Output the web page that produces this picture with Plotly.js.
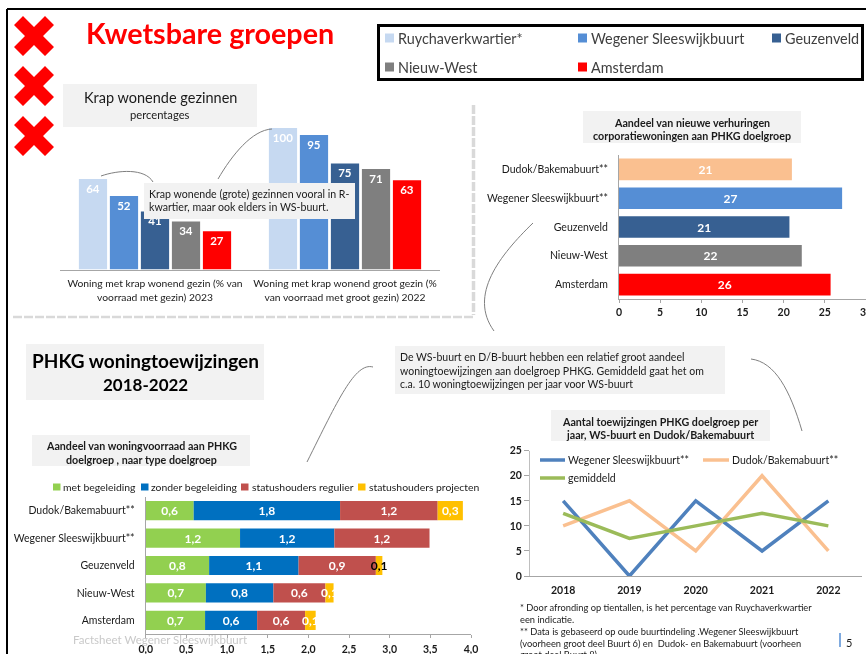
<!DOCTYPE html>
<html><head><meta charset="utf-8">
<script src="https://cdn.plot.ly/plotly-3.0.1.min.js"></script>
<style>html,body{margin:0;padding:0;background:#fff;overflow:hidden}#c{width:866px;height:654px;filter:blur(0.4px)}</style>
</head><body><div id="c"></div>
<script>
// ---------- data ----------
const crowdCategories = ['Woning met krap wonend gezin (% van<br>voorraad met gezin) 2023','Woning met krap wonend groot gezin (%<br>van voorraad met groot gezin) 2022'];
const crowdNames = ['Ruychaverkwartier*','Wegener Sleeswijkbuurt','Geuzenveld','Nieuw-West','Amsterdam'];
const crowdColors = ['#C6D9F1','#558ED5','#376092','#7F7F7F','#FF0000'];
const ruychaver = [64,100];
const wegener = [52,95];
const geuzenveld = [41,75];
const nieuwWest = [34,71];
const amsterdam = [27,63];

const rentCategories = ['Dudok/Bakemabuurt**','Wegener Sleeswijkbuurt**','Geuzenveld','Nieuw-West','Amsterdam'];
const rentValues = [21.0,27.1,20.7,22.2,25.7];
const rentLabels = ['21','27','21','22','26'];
const rentColors = ['#FAC090','#558ED5','#376092','#7F7F7F','#FF0000'];

const stackNames = ['met begeleiding','zonder begeleiding','statushouders regulier','statushouders projecten'];
const stackColors = ['#92D050','#0070C0','#C0504D','#FFC000'];
const metBegeleiding = [0.59,1.16,0.78,0.74,0.73];
const zonderBegeleiding = [1.80,1.16,1.10,0.83,0.64];
const regulier = [1.20,1.17,0.95,0.64,0.59];
const projecten = [0.31,0,0.08,0.10,0.13];
const metLabels = ['0,6','1,2','0,8','0,7','0,7'];
const zonderLabels = ['1,8','1,2','1,1','0,8','0,6'];
const regulierLabels = ['1,2','1,2','0,9','0,6','0,6'];
const projectenLabels = ['0,3','','0,1','0,1','0,1'];
const projectenLabelColors = ['#fff','#fff','#000','#fff','#fff'];

const years = ['2018','2019','2020','2021','2022'];
const lineNames = ['Wegener Sleeswijkbuurt**','Dudok/Bakemabuurt**','gemiddeld'];
const lineColors = ['#4F81BD','#FAC090','#9BBB59'];
const lineWegener = [15,0,15,5,15];
const lineDudok = [10,15,5,20,5];
const lineGemiddeld = [12.5,7.5,10,12.5,10];

const footnotes = ['* Door afronding op tientallen, is het percentage van Ruychaverkwartier','een indicatie.','** Data is gebaseerd op oude buurtindeling .Wegener Sleeswijkbuurt','(voorheen groot deel Buurt 6) en  Dudok- en Bakemabuurt (voorheen','groot deel Buurt 8).'];

// ---------- helpers ----------
const W=866,H=654,F='Lato, Carlito, sans-serif',INK='#1a1a1a';
const px=x=>x/W, py=y=>1-y/H;
const dx=(a,b)=>[px(a),px(b)], dy=(top,bot)=>[py(bot),py(top)];
const shapes=[],annotations=[];
function rect(x0,y0,x1,y1,fill,line){shapes.push({type:'rect',xref:'paper',yref:'paper',layer:'above',x0:px(x0),x1:px(x1),y0:py(y0),y1:py(y1),fillcolor:fill||'rgba(0,0,0,0)',line:line||{width:0}});}
function seg(x0,y0,x1,y1,color,width,dash){shapes.push({type:'line',xref:'paper',yref:'paper',layer:'above',x0:px(x0),x1:px(x1),y0:py(y0),y1:py(y1),line:{color:color,width:width,dash:dash||'solid'}});}
function path(pts,fill){
  const d=pts.map(p=>p[0]+p.slice(1).map((v,i)=>i%2?py(v):px(v)).join(' ')).join(' ');
  shapes.push({type:'path',xref:'paper',yref:'paper',layer:'above',path:d,fillcolor:fill||'rgba(0,0,0,0)',line:fill?{width:0}:{color:'#7f7f7f',width:1}});
}
function note(text,x,y,size,o){o=o||{};annotations.push({xref:'paper',yref:'paper',x:px(x),y:py(y),text:text,showarrow:false,xanchor:o.anchor||'center',yanchor:'middle',align:o.anchor||'center',borderpad:0,font:{family:F,size:size,color:o.color||INK,weight:o.weight||400}});}
function cross(cx,cy){const a=20,b=11,c=9;
  const p=[[-a,-b],[-b,-a],[0,-c],[b,-a],[a,-b],[c,0],[a,b],[b,a],[0,c],[-b,a],[-a,b],[-c,0]];
  path(p.map((q,i)=>[i?'L':'M',cx+q[0],cy+q[1]]).concat([['Z']]),'#FF0000');}

// ---------- page furniture ----------
seg(7,9,866,9,'#000',2); seg(7,9,7,654,'#000',2);
[36,86,136].forEach(y=>cross(34,y));
note('Kwetsbare groepen',210,33,28.7,{color:'#FF0000',weight:700});
rect(378.5,25.5,862.5,79.5,'#fff',{color:'#000',width:3});

// legend 1
const legendPos=[[385,38],[578,38],[772,38],[385,67],[578,67]];
crowdNames.forEach((n,i)=>{const[p,q]=legendPos[i];rect(p,q-4.5,p+9,q+4.5,crowdColors[i]);note(n,p+11.5,q,14.4,{anchor:'left',color:'#404040'});});

// grey boxes
rect(63,84,257,127,'#F2F2F2');
note('Krap wonende gezinnen',160,97.5,14.5);
note('percentages',160,114.5,11.2);
rect(583,111,801,143,'#F2F2F2');
note('Aandeel van nieuwe verhuringen',692,122,10.7,{weight:700});
note('corporatiewoningen aan PHKG doelgroep',692,135.5,10.7,{weight:700});
rect(26,344,264,400,'#F2F2F2');
note('PHKG woningtoewijzingen',145,360,19,{color:'#000',weight:700});
note('2018-2022',145,384,17,{color:'#000',weight:700});
rect(32,435,250,466,'#F2F2F2');
note('Aandeel van woningvoorraad aan PHKG',141,445.5,10.7,{weight:700});
note('doelgroep , naar type doelgroep',141,459,10.7,{weight:700});
rect(551,410,770,441,'#F2F2F2');
note('Aantal toewijzingen PHKG doelgroep per',660,421,10.7,{weight:700});
note('jaar, WS-buurt en Dudok/Bakemabuurt',660,434,10.7,{weight:700});
rect(144,183,355,219,'#F2F2F2');
note('Krap wonende (grote) gezinnen vooral in R-',148,194,10.6,{anchor:'left'});
note('kwartier, maar ook elders in WS-buurt.',148,207.5,10.6,{anchor:'left'});
rect(395,346,725,394,'#F2F2F2');
note('De WS-buurt en D/B-buurt hebben een relatief groot aandeel',399,357,10.5,{anchor:'left'});
note('woningtoewijzingen aan doelgroep PHKG. Gemiddeld gaat het om',399,370.5,10.5,{anchor:'left'});
note('c.a. 10 woningtoewijzingen per jaar voor WS-buurt',399,384,10.5,{anchor:'left'});

// dashed dividers
seg(13,317,473,317,'#D9D9D9',2.7,'9px,2px');
seg(473.5,105,473.5,315,'#D9D9D9',3.5,'9px,2px');

// callout curves
path([['M',101,176],['C',118,170,145,168,153,182]]);
path([['M',218,179],['C',232,155,252,130,272,129]]);
path([['M',533,223],['C',500,255,468,295,494,331]]);
path([['M',373,367],['C',355,362,338,400,307,462]]);
path([['M',751,359],['C',775,362,790,390,802,431]]);

// legend 3
[[53,62],[141,149.5],[241,251],[358,368]].forEach((p,i)=>{rect(p[0],483.5,p[0]+7.5,490.5,stackColors[i]);note(stackNames[i],p[1],487,10.4,{anchor:'left'});});
// legend 4
[[540,566.5,460],[703,730.5,460],[540,566.5,478]].forEach((p,i)=>{seg(p[0],p[2],p[1]-1.5,p[2],lineColors[i],3.5);note(lineNames[i],p[1],p[2],10.5,{anchor:'left'});});

// footnotes etc
footnotes.forEach((t,i)=>note(t,519,[607,619.5,631,643,654][i],9.3,{anchor:'left'}));
seg(840,633,840,647,'#558ED5',1.5);
note('5',845,642,11,{anchor:'left'});
note('Factsheet Wegener Sleeswijkbuurt',160,639.5,11.5,{color:'#C9C9C9'});

// ---------- traces ----------
const traces=[];
const barText=s=>({family:F,size:s,color:'#fff',weight:700});
[ruychaver,wegener,geuzenveld,nieuwWest,amsterdam].forEach((v,i)=>traces.push({type:'bar',name:crowdNames[i],x:crowdCategories,y:v,text:v.map(String),textposition:'inside',insidetextanchor:'end',constraintext:'none',textangle:0,textfont:barText(11.5),marker:{color:crowdColors[i]},xaxis:'x',yaxis:'y',showlegend:false,hoverinfo:'skip'}));
traces.push({type:'bar',orientation:'h',x:rentValues,y:rentCategories,width:0.75,offset:-0.375,text:rentLabels,textposition:'inside',insidetextanchor:'middle',constraintext:'none',textangle:0,textfont:barText(12),marker:{color:rentColors},xaxis:'x2',yaxis:'y2',showlegend:false,hoverinfo:'skip'});
const stackSeries=[metBegeleiding,zonderBegeleiding,regulier,projecten];
const stackLabels=[metLabels,zonderLabels,regulierLabels,projectenLabels];
stackSeries.forEach((v,i)=>{
  const base=v.map((_,k)=>stackSeries.slice(0,i).reduce((s,a)=>s+a[k],0));
  traces.push({type:'bar',orientation:'h',name:stackNames[i],x:v,base:base,y:rentCategories,width:0.7,offset:-0.35,text:stackLabels[i],textposition:'inside',insidetextanchor:'middle',constraintext:'none',cliponaxis:false,textangle:0,textfont:{family:F,size:12,weight:700,color:i===3?projectenLabelColors:'#fff'},marker:{color:stackColors[i]},xaxis:'x3',yaxis:'y3',showlegend:false,hoverinfo:'skip'});
});
[lineWegener,lineDudok,lineGemiddeld].forEach((v,i)=>traces.push({type:'scatter',mode:'lines',name:lineNames[i],x:years,y:v,line:{color:lineColors[i],width:3.5},cliponaxis:false,xaxis:'x4',yaxis:'y4',showlegend:false,hoverinfo:'skip'}));

// ---------- layout ----------
const tick={family:F,size:10.5,color:INK,weight:700};
const axisCol='#A6A6A6';
const layout={width:W,height:H,margin:{l:0,r:0,t:0,b:0},paper_bgcolor:'#fff',plot_bgcolor:'rgba(0,0,0,0)',separators:',.',showlegend:false,
 barmode:'group',bargap:0.184,bargroupgap:0.09,
 shapes:shapes,annotations:annotations,
 xaxis:{domain:dx(60,440),anchor:'y',type:'category',showline:true,linecolor:axisCol,linewidth:1.5,ticks:'',ticklabelstandoff:4,tickfont:{family:F,size:10.3,color:INK},fixedrange:true},
 yaxis:{domain:dy(128,269.5),anchor:'x',range:[0,100],visible:false,fixedrange:true},
 xaxis2:{domain:dx(619,866),anchor:'y2',range:[0,30],tickvals:[0,5,10,15,20,25,30],ticklabeloverflow:'allow',showline:true,linecolor:axisCol,linewidth:1,ticks:'outside',ticklen:3,tickcolor:axisCol,showgrid:false,zeroline:false,tickfont:tick},
 yaxis2:{domain:dy(155,299),anchor:'x2',type:'category',autorange:'reversed',showline:true,linecolor:axisCol,linewidth:1,ticks:'',ticklabelstandoff:8,tickfont:{family:F,size:10.5,color:INK},showgrid:false},
 xaxis3:{domain:dx(145.7,471),anchor:'y3',range:[0,4],dtick:0.5,tickformat:'.1f',showline:true,linecolor:axisCol,linewidth:1,ticks:'outside',ticklen:3,ticklabelstandoff:2,tickcolor:axisCol,showgrid:false,zeroline:false,tickfont:tick},
 yaxis3:{domain:dy(497,634),anchor:'x3',type:'category',autorange:'reversed',showline:true,linecolor:axisCol,linewidth:1,ticks:'',ticklabelstandoff:8,tickfont:{family:F,size:10.5,color:INK},showgrid:false},
 xaxis4:{domain:dx(530,861.5),anchor:'y4',type:'category',range:[-0.5,4.5],showline:true,linecolor:axisCol,linewidth:1,ticks:'',ticklabelstandoff:4,showgrid:false,tickfont:tick},
 yaxis4:{domain:dy(450.7,576),anchor:'x4',range:[0,25],dtick:5,showline:true,linecolor:'#BFBFBF',linewidth:1,ticks:'outside',ticklen:5,tickcolor:axisCol,showgrid:false,zeroline:false,tickfont:tick},
};
Plotly.newPlot('c',traces,layout,{displayModeBar:false,staticPlot:true});
</script></body></html>
